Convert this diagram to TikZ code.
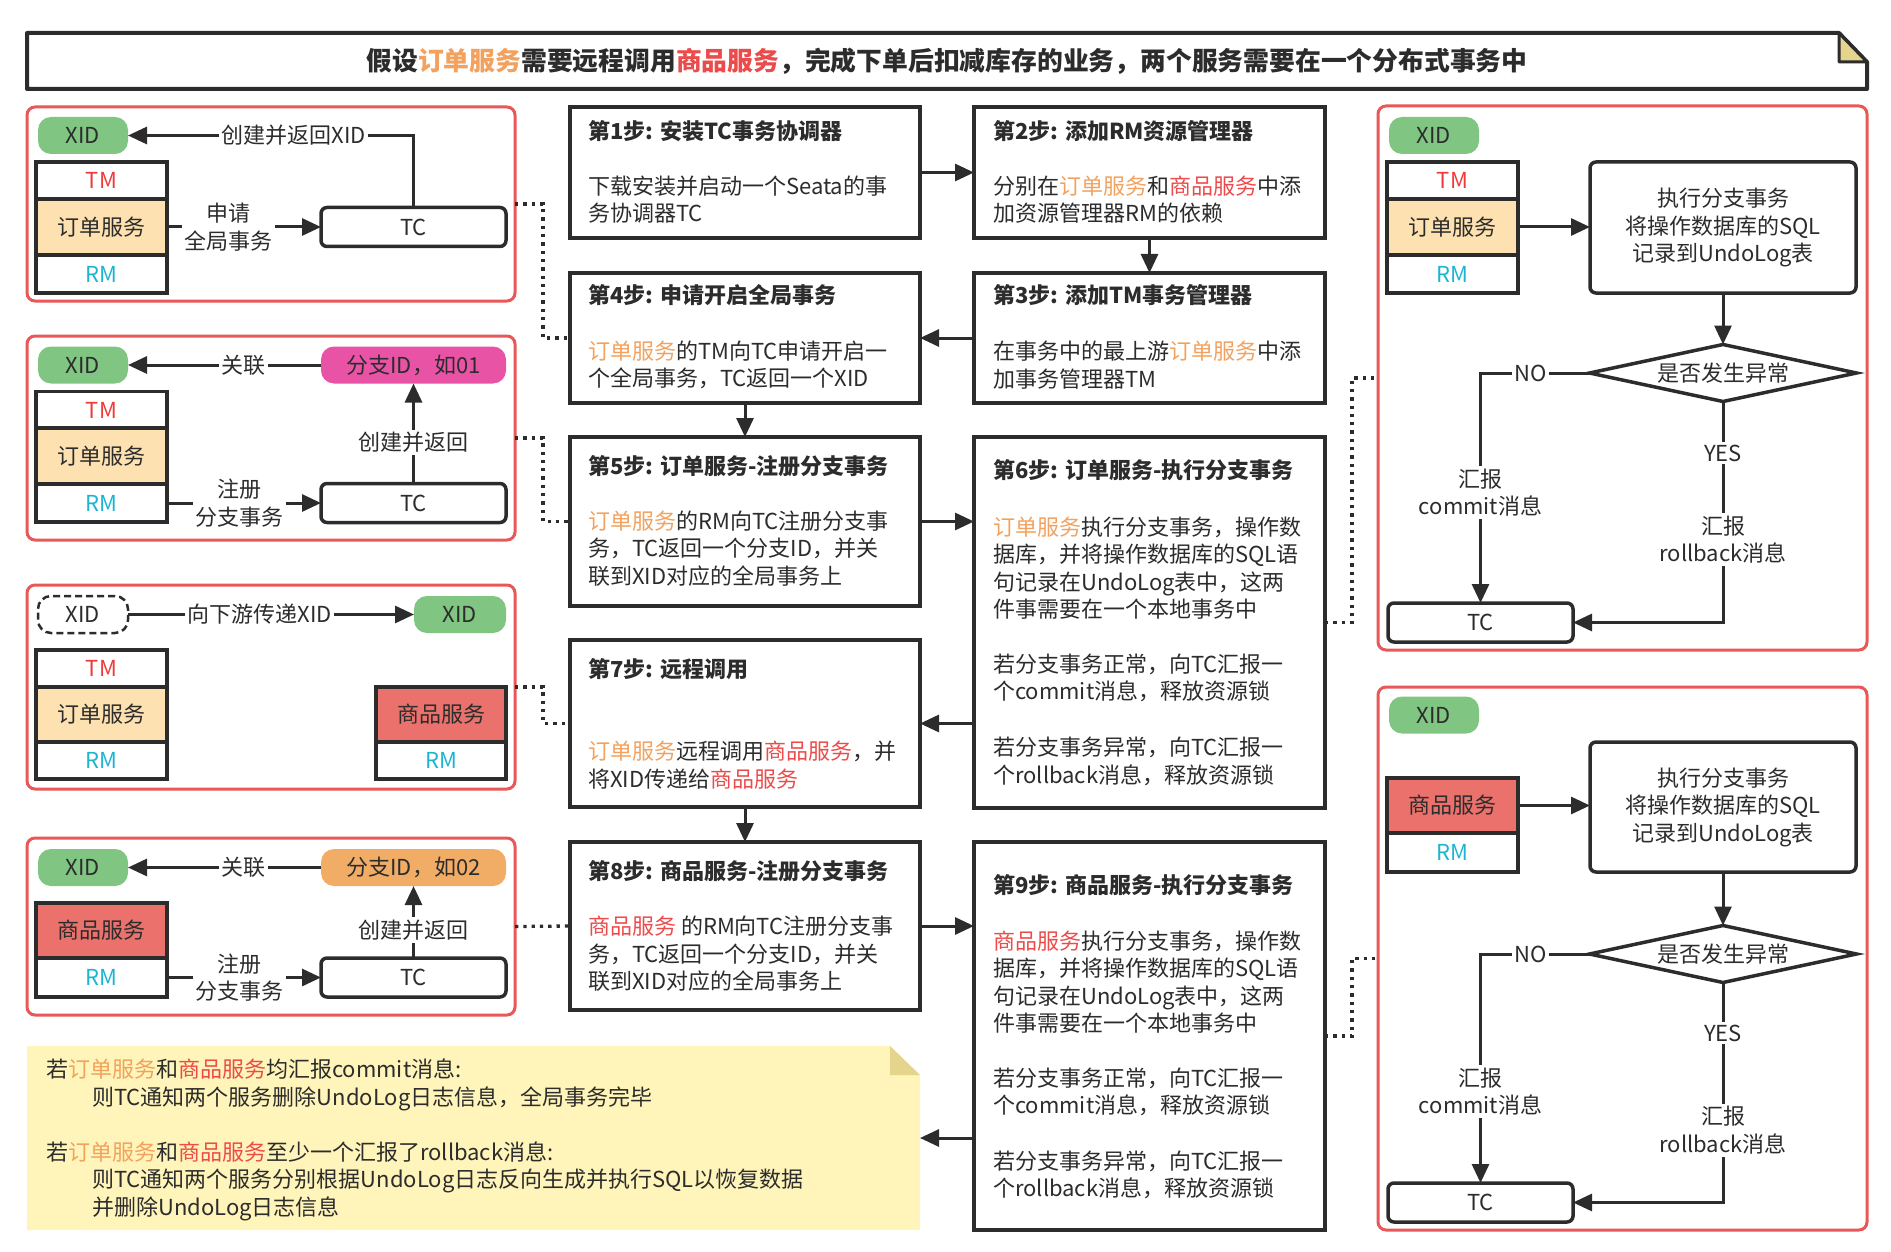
\documentclass[tikz,border=0pt]{standalone}
\usepackage{fontspec}
\setmainfont{Noto Sans CJK SC}
\usetikzlibrary{arrows.meta,shapes.geometric}
\definecolor{dark}{HTML}{2C2C2C}
\definecolor{pred}{HTML}{E85858}
\definecolor{cor}{HTML}{F2A25E}
\definecolor{cred}{HTML}{EC4B4B}
\definecolor{tmred}{HTML}{F03A3A}
\definecolor{rmcyan}{HTML}{1CB5D1}
\definecolor{xgreen}{HTML}{80C582}
\definecolor{bmag}{HTML}{E853A6}
\definecolor{borange}{HTML}{F1AC66}
\definecolor{osfill}{HTML}{FDE1B0}
\definecolor{spfill}{HTML}{EA716C}
\definecolor{notefill}{HTML}{FFF4B9}
\definecolor{foldfill}{HTML}{E5D48C}
\newcommand\myfs{\fontsize{22}{27.5}\selectfont}
\newcommand\odsvc{\textcolor{cor}{订单服务}}
\newcommand\spsvc{\textcolor{cred}{商品服务}}
\tikzset{
  panel/.style={draw=pred,line width=3pt,rounded corners=8pt,inner sep=0pt,outer sep=0pt},
  stepbox/.style={draw=dark,line width=3.5pt,inner sep=0pt,outer sep=0pt,fill=white},
  stk/.style={draw=dark,line width=3.5pt,inner sep=0pt,outer sep=0pt,minimum width=131pt},
  pill/.style={rounded corners=13pt,inner sep=0pt,outer sep=0pt,minimum height=37pt,minimum width=90pt},
  xid/.style={pill,fill=xgreen},
  tcbox/.style={draw=dark,line width=3.5pt,rounded corners=6pt,fill=white,inner sep=0pt,outer sep=0pt,minimum width=185pt,minimum height=39pt},
  exbox/.style={draw=dark,line width=3.5pt,rounded corners=6pt,fill=white,inner sep=0pt,outer sep=0pt,minimum width=266pt,align=center},
  dmd/.style={shape=diamond,draw=dark,line width=3.5pt,fill=white,inner sep=0pt,outer sep=0pt,aspect=4.7,minimum width=267pt,minimum height=57pt},
  arr/.style={draw=dark,line width=3pt,-{Triangle[length=19pt,width=17pt]}},
  lbl/.style={fill=white,inner sep=2.5pt,align=center},
  dotline/.style={draw=dark,line width=3.3pt,dash pattern=on 3.3pt off 5pt},
  txt/.style={anchor=west,align=left,inner sep=0pt},
  ttl/.style={anchor=west,inner sep=0pt,font=\myfs\bfseries},
}
\begin{document}
\begin{tikzpicture}[x=1pt,y=-1pt,font=\myfs,text=dark]
\useasboundingbox (0,0) rectangle (1891,1252);
% ---------- title ----------
\draw[line width=4pt,draw=dark,fill=white,line join=round] (27,33) -- (1839,33) -- (1867,62) -- (1867,89) -- (27,89) -- cycle;
\draw[line width=3pt,draw=dark,fill=foldfill,line join=round] (1839,33) -- (1839,62) -- (1867,62) -- cycle;
\node[font=\fontsize{25.8}{30}\selectfont\bfseries,inner sep=0pt] (title) at (947,61) {假设\odsvc{}需要远程调用\spsvc{}，完成下单后扣减库存的业务，两个服务需要在一个分布式事务中};

% ---------- panels ----------
\node[panel,minimum width=488pt,minimum height=194pt] (p1) at (271,204) {};
\node[panel,minimum width=488pt,minimum height=204pt] (p2) at (271,438) {};
\node[panel,minimum width=488pt,minimum height=204pt] (p3) at (271,687) {};
\node[panel,minimum width=488pt,minimum height=177pt] (p4) at (271,926.5) {};
\node[panel,minimum width=489pt,minimum height=544pt] (rp1) at (1622.5,378) {};
\node[panel,minimum width=489pt,minimum height=543pt] (rp2) at (1622.5,958.5) {};

% panel 1
\node[xid] (xid1) at (83,135.5) {XID};
\node[stk,minimum height=37pt,text=tmred] (tm1) at (101.5,180.5) {TM};
\node[stk,minimum height=56pt,fill=osfill] (os1) at (101.5,227) {订单服务};
\node[stk,minimum height=38pt,text=rmcyan] (rm1) at (101.5,274) {RM};
\node[tcbox] (tc1) at (413.5,227) {TC};
\draw[arr] (tc1.north) |- (xid1.east) node[lbl,pos=0.71] (l1) {创建并返回XID};
\draw[arr] (os1.east) -- (tc1.west) node[lbl,pos=0.4] (l2) {申请\\全局事务};

% panel 2
\node[xid] (xid2) at (83,365) {XID};
\node[pill,fill=bmag,minimum width=185pt] (br1) at (413.5,365) {分支ID，如01};
\node[stk,minimum height=37pt,text=tmred] (tm2) at (101.5,410) {TM};
\node[stk,minimum height=56pt,fill=osfill] (os2) at (101.5,456) {订单服务};
\node[stk,minimum height=38pt,text=rmcyan] (rm2) at (101.5,503) {RM};
\node[tcbox] (tc2) at (413.5,503) {TC};
\draw[arr] (br1.west) -- (xid2.east) node[lbl,pos=0.4] (l3) {关联};
\draw[arr] (tc2.north) -- (br1.south) node[lbl,pos=0.41] (l4) {创建并返回};
\draw[arr] (rm2.east) -- (tc2.west) node[lbl,pos=0.47] (l5) {注册\\分支事务};

% panel 3
\node[pill,draw=dark,line width=2.5pt,dash pattern=on 7pt off 4pt,fill=white] (xid3d) at (83,614.5) {XID};
\node[xid,minimum width=92pt] (xid3) at (460,614.5) {XID};
\node[stk,minimum height=37pt,text=tmred] (tm3) at (101.5,668.5) {TM};
\node[stk,minimum height=55pt,fill=osfill] (os3) at (101.5,714.5) {订单服务};
\node[stk,minimum height=37pt,text=rmcyan] (rm3) at (101.5,760.5) {RM};
\node[stk,minimum width=130pt,minimum height=55pt,fill=spfill] (sp3) at (441,714.5) {商品服务};
\node[stk,minimum width=130pt,minimum height=37pt,text=rmcyan] (rm3b) at (441,760.5) {RM};
\draw[arr] (xid3d.east) -- (xid3.west) node[lbl,pos=0.46] (l6) {向下游传递XID};

% panel 4
\node[xid] (xid4) at (83,867.5) {XID};
\node[pill,fill=borange,minimum width=185pt] (br2) at (413.5,867.5) {分支ID，如02};
\node[stk,minimum height=55pt,fill=spfill] (sp4) at (101.5,930.5) {商品服务};
\node[stk,minimum height=39pt,text=rmcyan] (rm4) at (101.5,977.5) {RM};
\node[tcbox] (tc4) at (413.5,977.5) {TC};
\draw[arr] (br2.west) -- (xid4.east) node[lbl,pos=0.4] (l7) {关联};
\draw[arr] (tc4.north) -- (br2.south) node[lbl,pos=0.39] (l8) {创建并返回};
\draw[arr] (rm4.east) -- (tc4.west) node[lbl,pos=0.47] (l9) {注册\\分支事务};

% right panel 1
\node[xid] (xid5) at (1434,135.5) {XID};
\node[stk,minimum height=37pt,text=tmred] (tm5) at (1452.5,180.5) {TM};
\node[stk,minimum height=56pt,fill=osfill] (os5) at (1452.5,227) {订单服务};
\node[stk,minimum height=38pt,text=rmcyan] (rm5) at (1452.5,274) {RM};
\node[exbox,minimum height=131pt] (ex1) at (1723,227.5) {执行分支事务\\将操作数据库的SQL\\记录到UndoLog表};
\node[dmd] (dm1) at (1723,373) {是否发生异常};
\node[tcbox] (tcr1) at (1480.5,622.5) {TC};
\draw[arr] (os5.east) -- (os5.east -| ex1.west);
\draw[arr] (ex1.south) -- (dm1.north);
\draw[arr] (dm1.west) -| (tcr1.north) node[lbl,pos=0.27] (l10) {NO} node[lbl,pos=0.76] (l11) {汇报\\commit消息};
\draw[arr] (dm1.south) |- (tcr1.east) node[lbl,pos=0.117] (l12) {YES} node[lbl,pos=0.313] (l13) {汇报\\rollback消息};

% right panel 2
\node[xid] (xid6) at (1434,715) {XID};
\node[stk,minimum height=55pt,fill=spfill] (sp6) at (1452.5,805.5) {商品服务};
\node[stk,minimum height=39pt,text=rmcyan] (rm6) at (1452.5,852.5) {RM};
\node[exbox,minimum height=130pt] (ex2) at (1723,807) {执行分支事务\\将操作数据库的SQL\\记录到UndoLog表};
\node[dmd] (dm2) at (1723,954) {是否发生异常};
\node[tcbox] (tcr2) at (1480.5,1202.5) {TC};
\draw[arr] (sp6.east) -- (sp6.east -| ex2.west);
\draw[arr] (ex2.south) -- (dm2.north);
\draw[arr] (dm2.west) -| (tcr2.north) node[lbl,pos=0.27] (l14) {NO} node[lbl,pos=0.80] (l15) {汇报\\commit消息};
\draw[arr] (dm2.south) |- (tcr2.east) node[lbl,pos=0.115] (l16) {YES} node[lbl,pos=0.336] (l17) {汇报\\rollback消息};

% ---------- steps ----------
\node[stepbox,minimum width=350pt,minimum height=131pt] (s1) at (745,172.5) {};
\node[ttl] (s1t) at (588,131) {第1步: 安装TC事务协调器};
\node[txt] (s1b) at (588,199.5) {下载安装并启动一个Seata的事\\务协调器TC};

\node[stepbox,minimum width=351pt,minimum height=131pt] (s2) at (1149.5,172.5) {};
\node[ttl] (s2t) at (993,131) {第2步: 添加RM资源管理器};
\node[txt] (s2b) at (993,199.5) {分别在\odsvc{}和\spsvc{}中添\\加资源管理器RM的依赖};

\node[stepbox,minimum width=351pt,minimum height=130pt] (s3) at (1149.5,338) {};
\node[ttl] (s3t) at (993,295) {第3步: 添加TM事务管理器};
\node[txt] (s3b) at (993,365) {在事务中的最上游\odsvc{}中添\\加事务管理器TM};

\node[stepbox,minimum width=350pt,minimum height=130pt] (s4) at (745,338) {};
\node[ttl] (s4t) at (588,295) {第4步: 申请开启全局事务};
\node[txt] (s4b) at (588,365) {\odsvc{}的TM向TC申请开启一\\个全局事务，TC返回一个XID};

\node[stepbox,minimum width=350pt,minimum height=169pt] (s5) at (745,521.5) {};
\node[ttl] (s5t) at (588,466) {第5步: 订单服务-注册分支事务};
\node[txt] (s5b) at (588,548.5) {\odsvc{}的RM向TC注册分支事\\务，TC返回一个分支ID，并关\\联到XID对应的全局事务上};

\node[stepbox,minimum width=351pt,minimum height=371pt] (s6) at (1149.5,622.5) {};
\node[ttl] (s6t) at (993,470) {第6步: 订单服务-执行分支事务};
\node[txt] (s6a) at (993,568) {\odsvc{}执行分支事务，操作数\\据库，并将操作数据库的SQL语\\句记录在UndoLog表中，这两\\件事需要在一个本地事务中};
\node[txt] (s6b) at (993,678) {若分支事务正常，向TC汇报一\\个commit消息，释放资源锁};
\node[txt] (s6c) at (993,761.5) {若分支事务异常，向TC汇报一\\个rollback消息，释放资源锁};

\node[stepbox,minimum width=350pt,minimum height=167pt] (s7) at (745,723.5) {};
\node[ttl] (s7t) at (588,669) {第7步: 远程调用};
\node[txt] (s7b) at (588,765) {\odsvc{}远程调用\spsvc{}，并\\将XID传递给\spsvc{}};

\node[stepbox,minimum width=350pt,minimum height=168pt] (s8) at (745,926) {};
\node[ttl] (s8t) at (588,871) {第8步: 商品服务-注册分支事务};
\node[txt] (s8b) at (588,954) {\spsvc{} 的RM向TC注册分支事\\务，TC返回一个分支ID，并关\\联到XID对应的全局事务上};

\node[stepbox,minimum width=351pt,minimum height=388pt] (s9) at (1149.5,1036) {};
\node[ttl] (s9t) at (993,885) {第9步: 商品服务-执行分支事务};
\node[txt] (s9a) at (993,982) {\spsvc{}执行分支事务，操作数\\据库，并将操作数据库的SQL语\\句记录在UndoLog表中，这两\\件事需要在一个本地事务中};
\node[txt] (s9b) at (993,1092) {若分支事务正常，向TC汇报一\\个commit消息，释放资源锁};
\node[txt] (s9c) at (993,1175) {若分支事务异常，向TC汇报一\\个rollback消息，释放资源锁};

% ---------- note ----------
\node[inner sep=0pt,outer sep=0pt,minimum width=893pt,minimum height=184pt] (note) at (473.5,1138) {};
\fill[notefill] (27,1046) -- (890,1046) -- (920,1075) -- (920,1230) -- (27,1230) -- cycle;
\fill[foldfill] (890,1046) -- (890,1075) -- (920,1075) -- cycle;
\node[txt] (n1) at (46,1085) {若\odsvc{}和\spsvc{}均汇报commit消息:\\\hspace*{46pt}则TC通知两个服务删除UndoLog日志信息，全局事务完毕};
\node[txt] (n2) at (46,1181) {若\odsvc{}和\spsvc{}至少一个汇报了rollback消息:\\\hspace*{46pt}则TC通知两个服务分别根据UndoLog日志反向生成并执行SQL以恢复数据\\\hspace*{46pt}并删除UndoLog日志信息};

% ---------- step arrows ----------
\draw[arr] (s1.east) -- (s2.west);
\draw[arr] (s2.south) -- (s3.north);
\draw[arr] (s3.west) -- (s4.east);
\draw[arr] (s4.south) -- (s5.north);
\draw[arr] (s5.east) -- (s5.east -| s6.west);
\draw[arr] (s7.east -| s6.west) -- (s7.east);
\draw[arr] (s7.south) -- (s8.north);
\draw[arr] (s8.east) -- (s8.east -| s9.west);
\draw[arr] (note.east -| s9.west) -- (note.east);

% ---------- dotted links ----------
\draw[dotline] (p1.east) -- ++(28,0) |- (s4.west);
\draw[dotline] (p2.east) -- ++(28,0) |- (s5.west);
\draw[dotline] (p3.east) -- ++(28,0) |- (s7.west);
\draw[dotline] (p4.east) -- (s8.west);
\draw[dotline] (s6.east) -- ++(27,0) |- (rp1.west);
\draw[dotline] (s9.east) -- ++(27,0) |- (rp2.west);
\end{tikzpicture}
\end{document}
